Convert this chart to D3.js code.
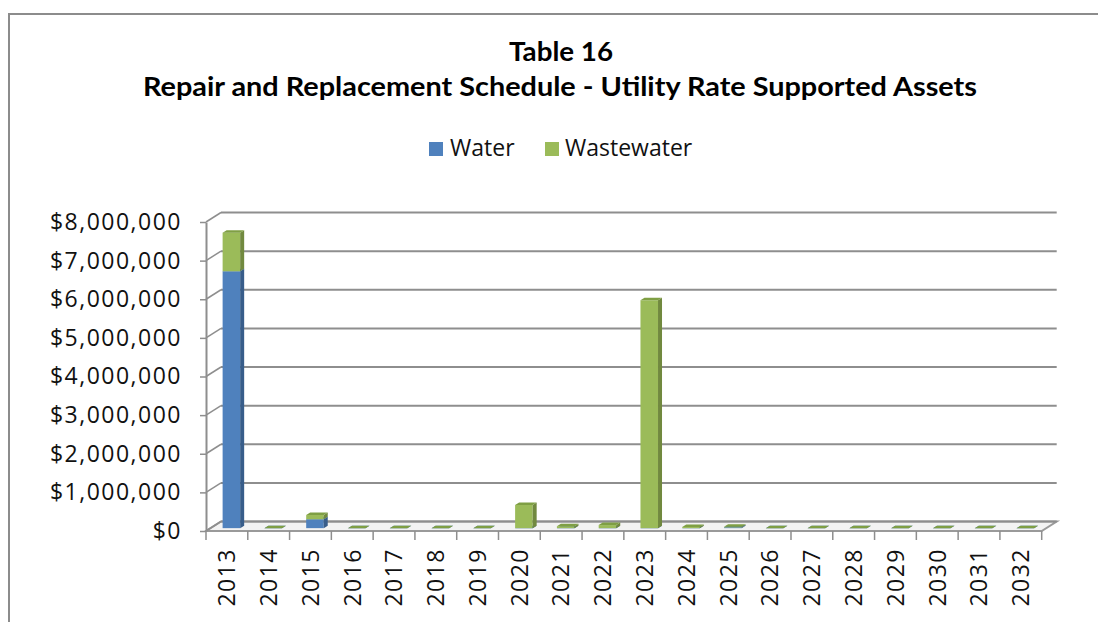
<!DOCTYPE html>
<html>
<head>
<meta charset="utf-8">
<script src="https://cdn.jsdelivr.net/npm/d3@7"></script>
<style>
  html, body { margin: 0; padding: 0; background: #fff; }
  svg { display: block; }
</style>
</head>
<body>
<svg id="chart" width="1098" height="622"></svg>
<script>
const years = ["2013","2014","2015","2016","2017","2018","2019","2020","2021","2022",
               "2023","2024","2025","2026","2027","2028","2029","2030","2031","2032"];
const water = [6650000,0,230000,0,0,0,0,0,0,0,0,0,20000,0,0,0,0,0,0,0];
const wastewater = [1000000,0,110000,0,0,0,0,600000,50000,80000,5900000,30000,15000,0,0,0,0,0,0,0];
const yTicks = [0,1000000,2000000,3000000,4000000,5000000,6000000,7000000,8000000];
const seriesNames = ["Water","Wastewater"];
const titleLines = ["Table 16","Repair and Replacement Schedule - Utility Rate Supported Assets"];

const colors = {
  Water: {front:"#4F81BD", side:"#385D8A", top:"#4473AD"},
  Wastewater: {front:"#9BBB59", side:"#71893F", top:"#7F9F44"}
};

const svg = d3.select("#chart");

// chart frame
svg.append("path").attr("d","M9,622 L9,14 L1098,14")
  .attr("fill","none").attr("stroke","#8c8c8c").attr("stroke-width",2);

// title
const titleFont = "Lato, 'Open Sans', sans-serif";
svg.append("text").attr("x",561).attr("y",61).attr("text-anchor","middle")
  .attr("font-family",titleFont).attr("font-weight","bold").attr("font-size",26)
  .attr("textLength",104).attr("lengthAdjust","spacingAndGlyphs")
  .text(titleLines[0]);
svg.append("text").attr("x",560).attr("y",96).attr("text-anchor","middle")
  .attr("font-family",titleFont).attr("font-weight","bold").attr("font-size",26)
  .attr("textLength",834).attr("lengthAdjust","spacingAndGlyphs")
  .text(titleLines[1]);

// legend
const legendFont = "'Open Sans', sans-serif";
const legendItems = [{name:seriesNames[0], x:429, tx:450},{name:seriesNames[1], x:545, tx:565}];
legendItems.forEach(it => {
  svg.append("rect").attr("x",it.x).attr("y",142).attr("width",14).attr("height",14)
    .attr("fill",colors[it.name].front);
  svg.append("text").attr("x",it.tx).attr("y",156).attr("font-family",legendFont)
    .attr("font-size",23).attr("fill","#111").text(it.name);
});

// 3D geometry
const x0 = 206, x1 = 1041.7, floorY = 531;
const DX = 15, DY = -9.5;          // depth of plot
const bx = 0.3*DX, by = 0.3*DY;    // bar front-face depth
const bdx = 4, bdy = -2.5;         // bar thickness in depth

const y = d3.scaleLinear().domain([0,8000000]).range([floorY,222]);
const xBand = d3.scaleBand().domain(years).range([x0,x1]).padding(0);
const xBar = d3.scaleBand().domain(years).range([x0,x1]).paddingInner(0.58).paddingOuter(0.29);

const grid = svg.append("g");
// floor
grid.append("path")
  .attr("d",`M${x0},${floorY} L${x1},${floorY} L${x1+DX},${floorY+DY} L${x0+DX},${floorY+DY} Z`)
  .attr("fill","#f3f3f3").attr("stroke","#9a9a9a").attr("stroke-width",2);
// back wall gridlines and side wall diagonals
yTicks.forEach(v => {
  const yy = y(v);
  grid.append("line").attr("x1",x0+DX).attr("x2",x1+DX).attr("y1",yy+DY).attr("y2",yy+DY)
    .attr("stroke","#8e8e8e").attr("stroke-width",2);
  grid.append("line").attr("x1",x0).attr("x2",x0+DX).attr("y1",yy).attr("y2",yy+DY)
    .attr("stroke","#8e8e8e").attr("stroke-width",1.5);
});

// bars
const bars = svg.append("g");
years.forEach((yr,i) => {
  const segs = [
    {name:"Water", v0:0, v1:water[i]},
    {name:"Wastewater", v0:water[i], v1:water[i]+wastewater[i]}
  ];
  const bxl = xBar(yr) + bx, w = xBar.bandwidth();
  segs.forEach(s => {
    const c = colors[s.name];
    const yTop = y(s.v1) + by, yBot = y(s.v0) + by;
    bars.append("rect").attr("x",bxl).attr("y",yTop).attr("width",w).attr("height",Math.max(0,yBot-yTop))
      .attr("fill",c.front);
    bars.append("path")
      .attr("d",`M${bxl+w},${yBot} L${bxl+w+bdx},${yBot+bdy} L${bxl+w+bdx},${yTop+bdy} L${bxl+w},${yTop} Z`)
      .attr("fill",c.side);
    bars.append("path")
      .attr("d",`M${bxl},${yTop} L${bxl+w},${yTop} L${bxl+w+bdx},${yTop+bdy} L${bxl+bdx},${yTop+bdy} Z`)
      .attr("fill",c.top);
  });
});

// front y axis
const axisFont = "'Open Sans', sans-serif";
const yAxis = svg.append("g").attr("transform",`translate(${x0},0)`)
  .call(d3.axisLeft(y).tickValues(yTicks).tickSize(6).tickSizeOuter(0).tickPadding(18)
    .tickFormat(d => "$" + d3.format(",")(d)));
yAxis.select(".domain").attr("stroke","#8e8e8e").attr("stroke-width",2);
yAxis.selectAll(".tick line").attr("stroke","#8e8e8e").attr("stroke-width",1.5);
yAxis.selectAll(".tick text").attr("font-family",axisFont).attr("font-size",23)
  .attr("letter-spacing","1.5px").attr("fill","#111");

// x axis ticks at category boundaries
const bounds = years.map(yr => xBand(yr)).concat([x1]);
svg.append("g").selectAll("line").data(bounds).join("line")
  .attr("x1",d=>d).attr("x2",d=>d).attr("y1",floorY).attr("y2",floorY+9)
  .attr("stroke","#8e8e8e").attr("stroke-width",1.5);

const xAxis = svg.append("g").attr("transform",`translate(0,${floorY})`)
  .call(d3.axisBottom(xBand).tickSize(0).tickSizeOuter(0));
xAxis.select(".domain").remove();
xAxis.selectAll(".tick text")
  .attr("transform","rotate(-90)").attr("text-anchor","end")
  .attr("x",-17).attr("y",0).attr("dy","0.36em")
  .attr("font-family",axisFont).attr("font-size",23).attr("letter-spacing","1.5px").attr("fill","#111");
</script>
</body>
</html>
